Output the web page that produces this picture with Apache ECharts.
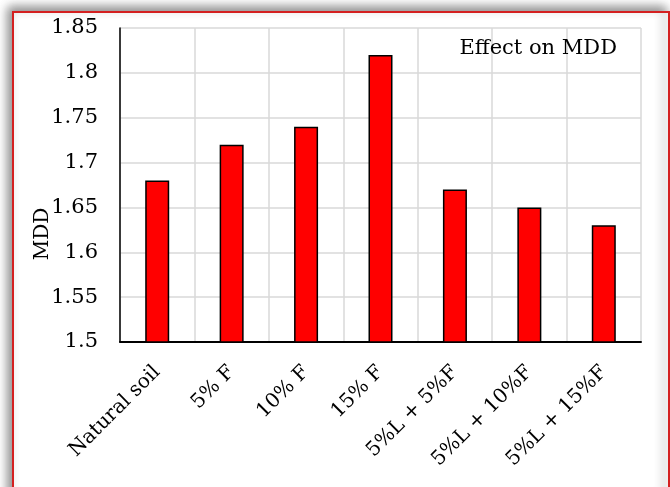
<!DOCTYPE html>
<html>
<head>
<meta charset="utf-8">
<script src="https://cdn.jsdelivr.net/npm/echarts@6/dist/echarts.min.js"></script>
<style>
html,body{margin:0;padding:0;background:#fff;}
#c{width:670px;height:487px;}
</style>
</head>
<body>
<div id="c"></div>
<script>
const categories = ['Natural soil', '5% F', '10% F', '15% F', '5%L + 5%F', '5%L + 10%F', '5%L + 15%F'];
const mddValues = [1.68, 1.72, 1.74, 1.82, 1.67, 1.65, 1.63];
const yTicks = { min: 1.5, max: 1.85, interval: 0.05 };
const titleText = 'Effect on MDD';
const yAxisName = 'MDD';

const FONT = '"DejaVu Serif", serif';
const chart = echarts.init(document.getElementById('c'));
chart.setOption({
  backgroundColor: '#fff',
  animation: false,
  graphic: [
    {
      type: 'rect', z: -10, silent: true,
      shape: { x: 13, y: 12, width: 656, height: 490 },
      style: { fill: '#fff', stroke: '#d42020', lineWidth: 2,
               shadowBlur: 10, shadowColor: 'rgba(0,0,0,0.45)', shadowOffsetX: -4, shadowOffsetY: -4 }
    },
    {
      type: 'text', x: 43, y: 234, rotation: Math.PI / 2, z: 10,
      style: { text: yAxisName, fontSize: 20, fontFamily: FONT, fill: '#000', align: 'center', verticalAlign: 'middle' }
    }
  ],
  title: {
    text: titleText, right: 48, top: 33,
    textStyle: { fontFamily: FONT, fontSize: 21, fontWeight: 'normal', color: '#000' }
  },
  grid: { left: 120, top: 28, right: 29, bottom: 145 },
  xAxis: {
    type: 'category', data: categories,
    axisLine: { lineStyle: { color: '#000', width: 2 } },
    axisTick: { show: false },
    splitLine: { show: true, lineStyle: { color: '#d9d9d9', width: 1.5 } },
    axisLabel: { rotate: 45, margin: 27, interval: 0, fontFamily: FONT, fontSize: 20, color: '#000' }
  },
  yAxis: {
    type: 'value', min: yTicks.min, max: yTicks.max, interval: yTicks.interval,
    axisLine: { show: true, lineStyle: { color: '#000', width: 1.5 } },
    axisTick: { show: false },
    splitLine: { show: true, lineStyle: { color: '#d9d9d9', width: 1.5 } },
    axisLabel: { margin: 22, fontFamily: FONT, fontSize: 21, color: '#000',
      formatter: v => String(parseFloat(v.toFixed(2))) }
  },
  series: [{
    type: 'bar', data: mddValues, barWidth: 24,
    itemStyle: { color: '#ff0000', borderColor: '#000', borderWidth: 1.5 }
  }]
});
</script>
</body>
</html>
